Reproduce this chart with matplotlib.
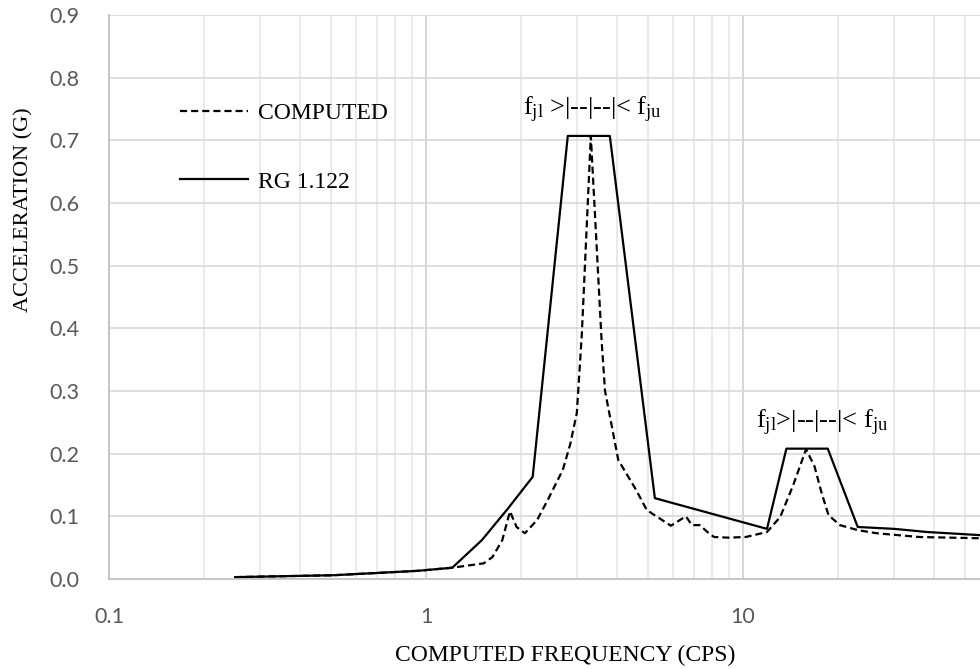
import matplotlib
matplotlib.use("Agg")
import matplotlib.pyplot as plt
from matplotlib.ticker import LogLocator, FixedLocator, NullFormatter, FuncFormatter

# ---- data ----
rg_freq = [0.25, 0.51, 0.94, 1.21, 1.50, 1.81, 2.17, 2.80, 3.80, 5.27, 11.9, 13.7, 18.5, 23.0, 30.0, 38.0, 56.0]
rg_acc = [0.003, 0.006, 0.013, 0.018, 0.062, 0.112, 0.163, 0.707, 0.707, 0.129, 0.080, 0.208, 0.208, 0.083, 0.080, 0.075, 0.070]

comp_freq = [0.25, 0.51, 0.94, 1.21, 1.52, 1.62, 1.74, 1.84, 1.93, 2.05, 2.24, 2.42, 2.70, 2.85, 2.99, 3.10,
             3.31, 3.58, 3.67, 4.04, 4.6, 4.97, 5.92, 6.6, 6.9, 7.3, 7.8, 8.1, 9.0, 10.2, 11.9, 13.1, 14.4,
             15.8, 16.8, 17.7, 18.6, 20.2, 23.0, 26.4, 36.0, 56.0]
comp_acc = [0.003, 0.006, 0.013, 0.018, 0.025, 0.035, 0.062, 0.108, 0.083, 0.073, 0.094, 0.126, 0.174, 0.215, 0.265, 0.39,
            0.707, 0.38, 0.30, 0.19, 0.142, 0.11, 0.085, 0.10, 0.086, 0.086, 0.073, 0.067, 0.066, 0.067, 0.075, 0.099, 0.150,
            0.207, 0.18, 0.137, 0.102, 0.086, 0.078, 0.073, 0.067, 0.065]

y_ticks = [0.0, 0.1, 0.2, 0.3, 0.4, 0.5, 0.6, 0.7, 0.8, 0.9]
x_ticks = [0.1, 1, 10]
x_tick_labels = ["0.1", "1", "10"]

series_labels = ["COMPUTED", "RG 1.122"]
x_label = "COMPUTED FREQUENCY (CPS)"
y_label = "ACCELERATION (G)"
band_label_1 = r"f$_{\mathrm{jl}}$ >|--|--|< f$_{\mathrm{ju}}$"
band_label_2 = r"f$_{\mathrm{jl}}$>|--|--|< f$_{\mathrm{ju}}$"

# ---- styling ----
plt.rcParams['mathtext.fontset'] = 'custom'
plt.rcParams['mathtext.rm'] = 'Liberation Serif'
plt.rcParams['mathtext.it'] = 'Liberation Serif:italic'
serif = 'Liberation Serif'

fig = plt.figure(figsize=(9.8, 6.69), dpi=100)
ax = fig.add_axes([109/980, 1 - 579/669, 1 - 109/980, (579 - 15)/669])

ax.set_xscale('log')
ax.set_xlim(0.1, 55.9)
ax.set_ylim(0, 0.9)

# grid
ax.xaxis.set_major_locator(FixedLocator(x_ticks))
ax.xaxis.set_minor_locator(LogLocator(base=10, subs=[2, 3, 4, 5, 6, 7, 8, 9], numticks=20))
ax.xaxis.set_minor_formatter(NullFormatter())
ax.xaxis.set_major_formatter(FuncFormatter(lambda v, p: x_tick_labels[x_ticks.index(v)] if v in x_ticks else ""))
ax.set_yticks(y_ticks)
ax.yaxis.set_major_formatter(FuncFormatter(lambda v, p: f"{v:.1f}"))

ax.grid(True, which='minor', axis='x', color='#e6e6e6', linewidth=1.2)
ax.grid(True, which='major', axis='x', color='#d0d0d0', linewidth=1.2)
ax.grid(True, which='major', axis='y', color='#d9d9d9', linewidth=1.2)
ax.set_axisbelow(True)

for s in ['top', 'right']:
    ax.spines[s].set_visible(False)
for s in ['left', 'bottom']:
    ax.spines[s].set_color('#bfbfbf')
    ax.spines[s].set_linewidth(1.2)

ax.tick_params(which='both', length=0)
ax.tick_params(axis='y', pad=21)
ax.tick_params(axis='x', pad=20)
for lab in ax.get_xticklabels() + ax.get_yticklabels():
    lab.set_fontfamily('Lato')
    lab.set_fontsize(15.5)
    lab.set_color('#595959')

# lines
l1, = ax.plot(comp_freq, comp_acc, color='black', linewidth=1.6, linestyle=(0, (3.2, 1.8)),
              label=series_labels[0])
l2, = ax.plot(rg_freq, rg_acc, color='black', linewidth=1.6, linestyle='-',
              label=series_labels[1])

ax.legend(handles=[l1, l2], loc='upper left', bbox_to_anchor=(0.0705, 0.862),
          frameon=False, prop={'family': serif, 'size': 17}, handlelength=2.9,
          handletextpad=0.4, labelspacing=2.0, borderaxespad=0)

# band annotations
ax.text(2.02, 0.740, band_label_1, fontfamily=serif, fontsize=19, ha='left', va='baseline')
ax.text(11.0, 0.241, band_label_2, fontfamily=serif, fontsize=19, ha='left', va='baseline')

ax.set_xlabel(x_label, fontfamily=serif, fontsize=17)
ax.xaxis.set_label_coords((565 - 109) / 871, (579 - 655) / 564)
ax.xaxis.label.set_va('center')
ax.set_ylabel(y_label, fontfamily=serif, fontsize=16)
ax.yaxis.set_label_coords((24 - 109) / 871, (579 - 210) / 564)
ax.yaxis.label.set_va('center')

fig.savefig('out.png', dpi=100)
